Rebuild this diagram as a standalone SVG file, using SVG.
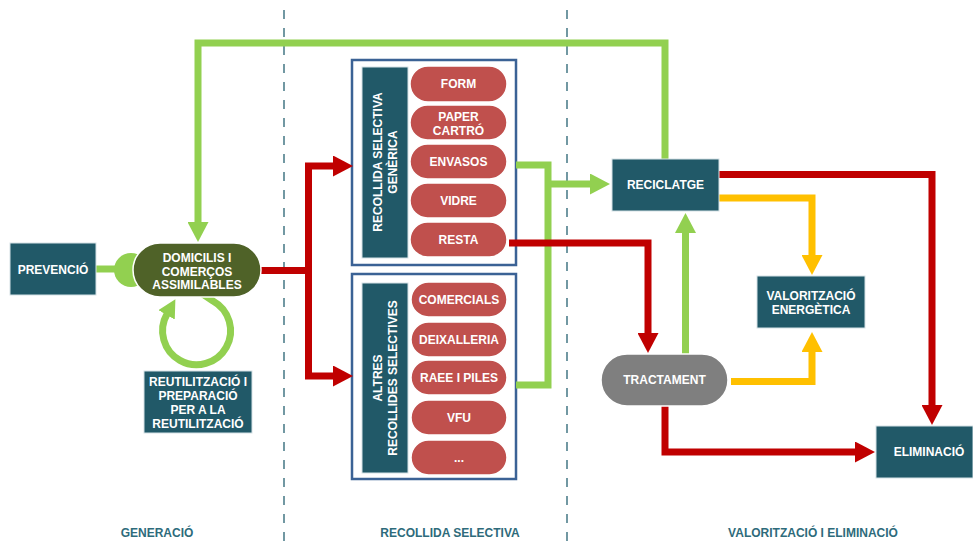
<svg xmlns="http://www.w3.org/2000/svg" width="973" height="547" viewBox="0 0 973 547">
<style>
.t{font-family:"Liberation Sans",Arial,sans-serif;font-weight:bold;font-size:12px;fill:#fff;text-anchor:middle}
.zl{font-family:"Liberation Sans",Arial,sans-serif;font-weight:bold;font-size:12px;fill:#2e6b7b;text-anchor:middle}
.teal{fill:#215968;stroke:#d5e2e6;stroke-width:1}
.pill{fill:#c0504d;stroke:#fff;stroke-width:1.5}
.frame{fill:#fff;stroke:#3b6295;stroke-width:2.5}
.div{stroke:#4f7f8c;stroke-width:1.6;stroke-dasharray:9 9;fill:none}
.g{fill:none;stroke:#92d050;stroke-width:7}
.r{fill:none;stroke:#c00000;stroke-width:7}
.y{fill:none;stroke:#ffc000;stroke-width:7}
</style>
<defs>
<marker id="ag" markerUnits="userSpaceOnUse" markerWidth="20" markerHeight="21" viewBox="0 0 20 21" refX="1" refY="10.5" orient="auto"><path d="M0,0 L20,10.5 L0,21 z" fill="#92d050"/></marker>
<marker id="ags" markerUnits="userSpaceOnUse" markerWidth="18" markerHeight="19" viewBox="0 0 18 19" refX="1" refY="9.5" orient="auto"><path d="M0,0 L18,9.5 L0,19 z" fill="#92d050"/></marker>
<marker id="ar" markerUnits="userSpaceOnUse" markerWidth="20" markerHeight="21" viewBox="0 0 20 21" refX="1" refY="10.5" orient="auto"><path d="M0,0 L20,10.5 L0,21 z" fill="#c00000"/></marker>
<marker id="ay" markerUnits="userSpaceOnUse" markerWidth="20" markerHeight="21" viewBox="0 0 20 21" refX="1" refY="10.5" orient="auto"><path d="M0,0 L20,10.5 L0,21 z" fill="#ffc000"/></marker>
</defs>
<rect width="973" height="547" fill="#fff"/>
<g id="dividers">
<line class="div" x1="284" y1="10" x2="284" y2="547"/>
<line class="div" x1="567" y1="10" x2="567" y2="547"/>
</g>
<g id="zone-labels">
<text class="zl" x="157" y="537">GENERACIÓ</text>
<text class="zl" x="450" y="537">RECOLLIDA SELECTIVA</text>
<text class="zl" x="813" y="537">VALORITZACIÓ I ELIMINACIÓ</text>
</g>
<g id="recollida-generica">
<rect class="frame" x="352" y="60" width="164" height="205"/>
<rect class="teal" x="362" y="67" width="46" height="191"/>
<g transform="translate(385,162) rotate(-90)">
<text class="t" x="0" y="-3">RECOLLIDA SELECTIVA</text>
<text class="t" x="0" y="12">GENÈRICA</text>
</g>
<rect class="pill" x="410" y="66" width="97" height="36" rx="18"/>
<text class="t" x="458.5" y="88.3">FORM</text>
<rect class="pill" x="410" y="105" width="97" height="35" rx="17.5"/>
<text class="t" x="458.5" y="121">PAPER</text>
<text class="t" x="458.5" y="134.5">CARTRÓ</text>
<rect class="pill" x="410" y="144" width="97" height="35" rx="17.5"/>
<text class="t" x="458.5" y="165.8">ENVASOS</text>
<rect class="pill" x="410" y="183" width="97" height="35" rx="17.5"/>
<text class="t" x="458.5" y="204.8">VIDRE</text>
<rect class="pill" x="410" y="222" width="97" height="35" rx="17.5"/>
<text class="t" x="458.5" y="243.8">RESTA</text>
</g>
<g id="altres-recollides">
<rect class="frame" x="352" y="274" width="164" height="205"/>
<rect class="teal" x="362" y="283" width="46" height="190"/>
<g transform="translate(385,378) rotate(-90)">
<text class="t" x="0" y="-3">ALTRES</text>
<text class="t" x="0" y="12">RECOLLIDES SELECTIVES</text>
</g>
<rect class="pill" x="411" y="282" width="96" height="35" rx="17.5"/>
<text class="t" x="459" y="303.8">COMERCIALS</text>
<rect class="pill" x="411" y="322" width="96" height="35" rx="17.5"/>
<text class="t" x="459" y="343.8">DEIXALLERIA</text>
<rect class="pill" x="411" y="360" width="96" height="35" rx="17.5"/>
<text class="t" x="459" y="381.8">RAEE I PILES</text>
<rect class="pill" x="411" y="400" width="96" height="35" rx="17.5"/>
<text class="t" x="459" y="421.8">VFU</text>
<rect class="pill" x="411" y="440" width="96" height="35" rx="17.5"/>
<text class="t" x="459" y="461.8">...</text>
</g>
<g id="connectors">
<path class="g" d="M96,269 H120"/>
<circle cx="131" cy="270" r="17" fill="#92d050"/>
<path class="g" d="M202,293.5 L213,301 A34,34 0 1,1 167,314" marker-end="url(#ags)"/>
<path class="g" d="M665,159 V43 H198 V223" marker-end="url(#ag)"/>
<path class="g" d="M516,165 H548 V385 H516"/>
<path class="g" d="M548,184 H591" marker-end="url(#ag)"/>
<path class="g" d="M685.5,354 V232" marker-end="url(#ag)"/>
<path class="r" d="M261,270.5 H308.5 V166 H334" marker-end="url(#ar)"/>
<path class="r" d="M308.5,270.5 V376 H334" marker-end="url(#ar)"/>
<path class="r" d="M509,243 H648 V334" marker-end="url(#ar)"/>
<path class="r" d="M719,174.5 H932 V406" marker-end="url(#ar)"/>
<path class="r" d="M665,406 V452 H856" marker-end="url(#ar)"/>
<path class="y" d="M719,198 H812 V256" marker-end="url(#ay)"/>
<path class="y" d="M731,381.5 H812 V351" marker-end="url(#ay)"/>
</g>
<g id="prevencio">
<rect class="teal" x="10" y="243" width="86" height="52"/>
<text class="t" x="53" y="273.5">PREVENCIÓ</text>
</g>
<g id="domicilis">
<rect x="133" y="243" width="128" height="54" rx="27" fill="#4f6228" stroke="#fff" stroke-width="1.5"/>
<text class="t" x="197" y="261.5">DOMICILIS I</text>
<text class="t" x="197" y="275.5">COMERÇOS</text>
<text class="t" x="197" y="289">ASSIMILABLES</text>
</g>
<g id="reutilitzacio">
<rect class="teal" x="144" y="371" width="108" height="62"/>
<text class="t" x="198" y="386">REUTILITZACIÓ I</text>
<text class="t" x="198" y="399.5">PREPARACIÓ</text>
<text class="t" x="198" y="413.5">PER A LA</text>
<text class="t" x="198" y="427.5">REUTILITZACIÓ</text>
</g>
<g id="reciclatge">
<rect class="teal" x="612" y="159" width="107" height="52"/>
<text class="t" x="665.5" y="189.3">RECICLATGE</text>
</g>
<g id="tractament">
<rect x="601" y="354" width="127" height="52" rx="26" fill="#7f7f7f" stroke="#fff" stroke-width="1.5"/>
<text class="t" x="664.5" y="384.3">TRACTAMENT</text>
</g>
<g id="valoritzacio">
<rect class="teal" x="757" y="276" width="108" height="52"/>
<text class="t" x="811" y="300">VALORITZACIÓ</text>
<text class="t" x="811" y="313.5">ENERGÈTICA</text>
</g>
<g id="eliminacio">
<rect class="teal" x="876" y="426" width="97" height="52"/>
<text class="t" x="929" y="456.3">ELIMINACIÓ</text>
</g>
</svg>
